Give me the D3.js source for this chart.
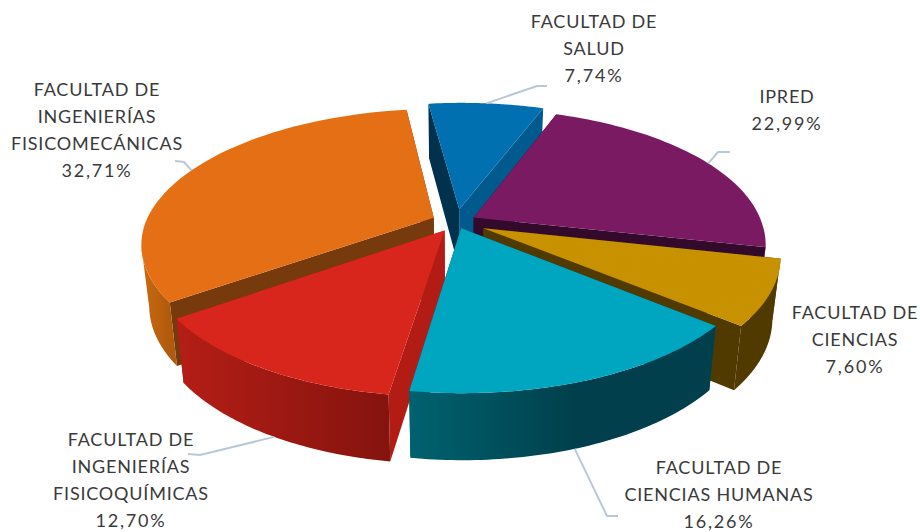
<!DOCTYPE html>
<html><head><meta charset="utf-8">
<script src="https://cdn.jsdelivr.net/npm/d3@7"></script>
<style>html,body{margin:0;background:#fff}svg{display:block}text{font-family:Lato,"Open Sans",sans-serif;fill:#3a3a3a;font-size:18px;letter-spacing:.8px}</style>
</head><body><svg id="c" width="920" height="532"></svg>
<script>
const categories=["FACULTAD DE SALUD","IPRED","FACULTAD DE CIENCIAS","FACULTAD DE CIENCIAS HUMANAS","FACULTAD DE INGENIERÍAS FISICOQUÍMICAS","FACULTAD DE INGENIERÍAS FISICOMECÁNICAS"];
const values=[7.74,22.99,7.60,16.26,12.70,32.71];
const valueLabels=["7,74%","22,99%","7,60%","16,26%","12,70%","32,71%"];
const topColors=["#0070b0","#7a1a63","#c79100","#00a5c0","#d9261c","#e56f14"];
const startWallColors=["#00314d","#330a2c","#503a00","#00505e","#b21c14","#763a0c"];
const endWallColors=["#005a8e","#330a2c","#503a00","#00505e","#b21c14","#763a0c"];
const outerFrom=["#005a8e","#4a0f3c","#503a00","#00626f","#b41e16","#cc6a10"];
const outerTo=["#005a8e","#4a0f3c","#503a00","#003f4b","#85130e","#b05a0e"];
const explosion=[0.10,0.07,0.105,0.05,0.075,0.085];

const svg=d3.select("#c");
const rad=d=>d*Math.PI/180;
const pie=d3.pie().sort(null).startAngle(rad(-8)).endAngle(rad(352));
const arcs=pie(values);
const cx=456,cy=222,Rx=288,Ry=131,k=0.19,H=60,skew=0.012;
function proj(X,Y,z){
  const p=1/(1-k*Y);
  return [cx+(X+skew*Math.max(0,-Y))*Rx*p*(1-0.025*z), cy+Y*Ry*p+z*H*Math.sqrt(p)];
}
const line=d3.line();
const defs=svg.append("defs");
const paint=[0,5,1,2,4,3];
const offset=i=>{const a=arcs[i],m=(a.startAngle+a.endAngle)/2;return [explosion[i]*Math.sin(m),-explosion[i]*Math.cos(m)];};
paint.forEach(i=>{
  const a=arcs[i];
  const [ox,oy]=offset(i);
  const P=(t,z)=>proj(ox+Math.sin(t),oy-Math.cos(t),z);
  const angs=d3.range(0,61).map(j=>a.startAngle+(a.endAngle-a.startAngle)*j/60);
  const g=svg.append("g");
  const tip=z=>proj(ox,oy,z);
  // radial walls
  g.append("path").attr("d",line([tip(0),P(a.endAngle,0),P(a.endAngle,1),tip(1)])+"Z").attr("fill",endWallColors[i]);
  g.append("path").attr("d",line([tip(0),P(a.startAngle,0),P(a.startAngle,1),tip(1)])+"Z").attr("fill",startWallColors[i]);
  // outer wall
  const vis=angs.filter(t=>-Math.cos(t)>0.19);
  if(vis.length>1){
    const top=vis.map(t=>P(t,0)),bot=vis.map(t=>P(t,1)).reverse();
    const xs=top.map(d=>d[0]);
    const id="g"+i;
    const gr=defs.append("linearGradient").attr("id",id).attr("gradientUnits","userSpaceOnUse")
      .attr("x1",d3.min(xs)).attr("x2",d3.max(xs)).attr("y1",0).attr("y2",0);
    gr.append("stop").attr("offset",0).attr("stop-color",outerFrom[i]);
    gr.append("stop").attr("offset",i===3?0.55:1).attr("stop-color",outerTo[i]);
    g.append("path").attr("d",line(top.concat(bot))+"Z").attr("fill",`url(#${id})`);
  }
  // top face
  g.append("path").attr("d",line([tip(0)].concat(angs.map(t=>P(t,0))))+"Z").attr("fill",topColors[i]);
});

// leader lines, starting on the rim at each slice's anchor angle
const leaderAnchors=[{i:0,f:.5,pts:[[537,86],[547,86]]},{i:1,f:.52,pts:[[718,152],[730,152]]},
 {i:3,f:.53,z:1,pts:[[607,516],[618,516]]},{i:4,f:.46,z:1,pts:[[200,455],[188,454]]},{i:5,f:.5,pts:[[184,162],[175,161]]}];
leaderAnchors.forEach(l=>{
  const a=arcs[l.i],[ox,oy]=offset(l.i),t=a.startAngle+(a.endAngle-a.startAngle)*l.f;
  const s=proj(ox+Math.sin(t),oy-Math.cos(t),l.z||0);
  svg.append("path").attr("d",line([s,...l.pts])).attr("fill","none").attr("stroke","#b9c8d9").attr("stroke-width",2);
});

// labels
const labelLines=[["FACULTAD DE","SALUD"],["IPRED"],["FACULTAD DE","CIENCIAS"],["FACULTAD DE","CIENCIAS HUMANAS"],["FACULTAD DE","INGENIERÍAS","FISICOQUÍMICAS"],["FACULTAD DE","INGENIERÍAS","FISICOMECÁNICAS"]];
const labelPos=[[594,28],[787,103],[855,319],[719,474],[131,446],[97,96]];
labelLines.forEach((ls,i)=>{
  const t=svg.append("text").attr("text-anchor","middle").attr("x",labelPos[i][0]).attr("y",labelPos[i][1]);
  ls.forEach((s,j)=>t.append("tspan").attr("x",labelPos[i][0]).attr("dy",j?27:0).text(s));
  t.append("tspan").attr("x",labelPos[i][0]).attr("dy",27).style("letter-spacing","1.8px").text(valueLabels[i]);
});
</script></body></html>
